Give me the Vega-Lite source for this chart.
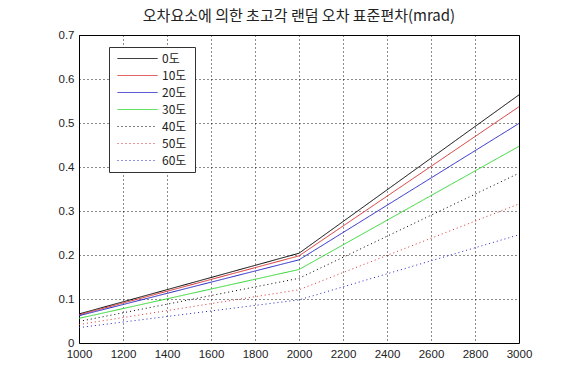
{
  "$schema": "https://vega.github.io/schema/vega-lite/v6.json",
  "autosize": {"type": "none"},
  "width": 440,
  "height": 308,
  "padding": {"left": 79, "top": 35, "right": 51, "bottom": 31},
  "background": "white",
  "title": {
    "text": "오차요소에 의한 초고각 랜덤 오차 표준편차(mrad)",
    "font": "Noto Sans CJK KR",
    "fontSize": 15,
    "fontWeight": "normal",
    "color": "#222222",
    "anchor": "middle",
    "offset": 5
  },
  "config": {
    "view": {"stroke": "black", "strokeWidth": 1},
    "axis": {
      "labelFont": "Liberation Sans",
      "labelFontSize": 11.5,
      "labelColor": "#222222",
      "ticks": false,
      "domain": false,
      "grid": true,
      "gridColor": "black",
      "gridDash": [1, 3],
      "gridOpacity": 0.9,
      "gridWidth": 1,
      "title": null
    }
  },
  "data": {
    "values": [
      {"series": "0도", "x": 1000, "y": 0.066},
      {"series": "0도", "x": 2000, "y": 0.204},
      {"series": "0도", "x": 3000, "y": 0.564},
      {"series": "10도", "x": 1000, "y": 0.064},
      {"series": "10도", "x": 2000, "y": 0.198},
      {"series": "10도", "x": 3000, "y": 0.537},
      {"series": "20도", "x": 1000, "y": 0.062},
      {"series": "20도", "x": 2000, "y": 0.189},
      {"series": "20도", "x": 3000, "y": 0.499},
      {"series": "30도", "x": 1000, "y": 0.056},
      {"series": "30도", "x": 2000, "y": 0.167},
      {"series": "30도", "x": 3000, "y": 0.447},
      {"series": "40도", "x": 1000, "y": 0.049},
      {"series": "40도", "x": 2000, "y": 0.147},
      {"series": "40도", "x": 3000, "y": 0.386},
      {"series": "50도", "x": 1000, "y": 0.042},
      {"series": "50도", "x": 2000, "y": 0.121},
      {"series": "50도", "x": 3000, "y": 0.316},
      {"series": "60도", "x": 1000, "y": 0.035},
      {"series": "60도", "x": 2000, "y": 0.098},
      {"series": "60도", "x": 3000, "y": 0.246}
    ]
  },
  "mark": {"type": "line", "strokeWidth": 1, "clip": true},
  "encoding": {
    "x": {
      "field": "x",
      "type": "quantitative",
      "scale": {"domain": [1000, 3000], "nice": false, "zero": false},
      "axis": {"values": [1000, 1200, 1400, 1600, 1800, 2000, 2200, 2400, 2600, 2800, 3000], "labelPadding": 5, "labelFlush": false, "format": "d"}
    },
    "y": {
      "field": "y",
      "type": "quantitative",
      "scale": {"domain": [0, 0.7], "nice": false},
      "axis": {"values": [0, 0.1, 0.2, 0.3, 0.4, 0.5, 0.6, 0.7], "labelPadding": 5, "labelExpr": "datum.value == 0 ? '0' : format(datum.value, '.1f')"}
    },
    "color": {
      "field": "series",
      "type": "nominal",
      "scale": {
        "domain": ["0도", "10도", "20도", "30도", "40도", "50도", "60도"],
        "range": ["#000000", "#d83030", "#2525c8", "#30d830", "#000000", "#d83030", "#2525c8"]
      },
      "legend": {
        "orient": "none",
        "legendX": 30,
        "legendY": 12,
        "title": "\u00a0",
        "titleOrient": "right",
        "titleFontSize": 4,
        "titlePadding": 6,
        "symbolType": "stroke",
        "symbolSize": 1600,
        "symbolStrokeWidth": 1,
        "symbolOffset": 5,
        "clipHeight": 17,
        "rowPadding": 0,
        "padding": 3,
        "labelOffset": 4,
        "labelFont": "Noto Sans CJK KR",
        "labelFontSize": 12,
        "labelColor": "#222222",
        "strokeColor": "#333333",
        "fillColor": "white"
      }
    },
    "strokeDash": {
      "field": "series",
      "type": "nominal",
      "scale": {
        "domain": ["0도", "10도", "20도", "30도", "40도", "50도", "60도"],
        "range": [[1, 0], [1, 0], [1, 0], [1, 0], [1, 3], [1, 3], [1, 3]]
      },
      "legend": null
    }
  }
}
